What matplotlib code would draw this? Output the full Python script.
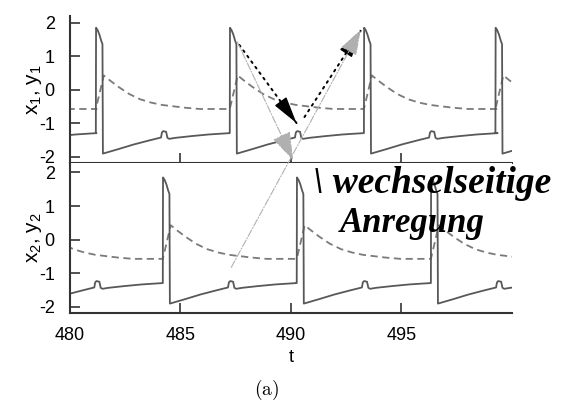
import numpy as np
import matplotlib.pyplot as plt
from matplotlib.patches import ConnectionPatch

plt.rcParams['font.family'] = ['Liberation Sans', 'DejaVu Sans']
plt.rcParams['mathtext.fontset'] = 'custom'
plt.rcParams['mathtext.rm'] = 'Liberation Sans'
plt.rcParams['mathtext.it'] = 'Liberation Sans:italic'
plt.rcParams['axes.unicode_minus'] = False

# spike times (first one of each lies before t=480)
SPIKES_1 = [475.15, 481.17, 487.23, 493.30, 499.25]
SPIKES_2 = [478.15, 484.20, 490.26, 496.33]

# one cycle of the solid curve x(t), time offset after a spike
X_OFF = [0.00, 0.01, 0.08, 0.16, 0.24, 0.30, 0.32, 1.0, 1.7, 2.4, 2.95,
         2.99, 3.05, 3.18, 3.24, 3.32, 3.6, 4.3, 5.1, 5.8, 6.05]
X_VAL = [-1.29, 1.85, 1.78, 1.65, 1.47, 1.36, -1.90, -1.77, -1.63, -1.51, -1.42,
         -1.27, -1.23, -1.25, -1.43, -1.46, -1.43, -1.38, -1.33, -1.30, -1.29]

# one cycle of the dashed curve y(t)
Y_OFF = [0.0, 0.36, 0.6, 1.0, 1.5, 2.0, 2.5, 3.0, 3.5, 4.0, 4.7, 6.05]
Y_VAL = [-0.57, 0.43, 0.30, 0.10, -0.12, -0.28, -0.38, -0.45, -0.49, -0.53, -0.57, -0.57]

T_MIN, T_MAX = 480, 500
X_TICKS = [480, 485, 490, 495]
Y_TICKS = [-2, -1, 0, 1, 2]

SOLID_C = '#585858'
DASH_C = '#7a7a7a'


def cycles(spikes, off, val):
    t = np.concatenate([s + np.asarray(off) for s in spikes])
    v = np.tile(val, len(spikes))
    return t, v


fig = plt.figure(figsize=(5.63, 4.13), dpi=100)
ax1 = fig.add_axes([0.1243, 0.6053, 0.7851, 0.3559])
ax2 = fig.add_axes([0.1243, 0.2421, 0.7851, 0.3632])

for ax, spikes, lab in [(ax1, SPIKES_1, 'x$_1$, y$_1$'), (ax2, SPIKES_2, 'x$_2$, y$_2$')]:
    t, x = cycles(spikes, X_OFF, X_VAL)
    ty, y = cycles(spikes, Y_OFF, Y_VAL)
    ax.plot(ty, y, color=DASH_C, lw=1.3, ls=(0, (4, 2.5)))
    ax.plot(t, x, color=SOLID_C, lw=1.3)
    ax.set_xlim(T_MIN, T_MAX)
    ax.set_yticks(Y_TICKS)
    ax.set_xticks(X_TICKS)
    ax.tick_params(direction='in', length=7, width=1.2, labelsize=13, color='#333333')
    ax.tick_params(axis='y', pad=11)
    ax.tick_params(axis='x', pad=10)
    for s in ['top', 'right']:
        ax.spines[s].set_visible(False)
    for s in ['left', 'bottom']:
        ax.spines[s].set_linewidth(1.5)
        ax.spines[s].set_color('#333333')
    ax.set_ylabel(lab, fontsize=15)
    ax.yaxis.set_label_coords(-0.058, 0.5)

ax1.set_ylim(-2.18, 2.2)
ax2.set_ylim(-2.18, 2.28)
ax1.set_xticklabels([])
ax2.set_xlabel('t', fontsize=13, va='top')
ax2.xaxis.set_label_coords(0.5, -0.24)

# dotted black arrows in the upper panel: dotted shaft + solid head
for p0, p1 in [((487.66, 1.34), (490.25, -0.99)), ((490.61, -0.81), (493.15, 1.76))]:
    ax1.annotate('', xy=p1, xytext=p0,
                 arrowprops=dict(arrowstyle='-', color='black', lw=1.4,
                                 ls=(0, (1, 2.5)), shrinkA=0, shrinkB=0))
    mid = (p1[0] - 0.25 * (p1[0] - p0[0]), p1[1] - 0.25 * (p1[1] - p0[1]))
    ax1.annotate('', xy=p1, xytext=mid,
                 arrowprops=dict(arrowstyle='-|>,head_length=1.7,head_width=0.45',
                                 color='black', lw=1.0, shrinkA=0, shrinkB=0))

# light grey dash-dot arrows connecting the two oscillators
g1 = ConnectionPatch((487.57, 1.43), (490.1, -2.1), 'data', 'data', axesA=ax1, axesB=ax1,
                     arrowstyle='-|>,head_length=1.8,head_width=0.6', color='#b0b0b0',
                     lw=0.8, ls='-.', shrinkA=0, shrinkB=0)
g2 = ConnectionPatch((487.30, -0.82), (493.15, 1.79), 'data', 'data', axesA=ax2, axesB=ax1,
                     arrowstyle='-|>,head_length=1.6,head_width=0.55', color='#b0b0b0',
                     lw=0.8, ls='-.', shrinkA=0, shrinkB=0)
fig.add_artist(g1)
fig.add_artist(g2)

# handwritten note
note = dict(color='black', family='Liberation Serif', style='italic',
            weight='bold', va='baseline')
fig.text(313 / 563, 1 - 193 / 413, '\\ wechselseitige', fontsize=27, **note)
fig.text(340 / 563, 1 - 232 / 413, 'Anregung', fontsize=25, **note)

fig.text(267 / 563, 1 - 390 / 413, r'$\mathrm{(a)}$', math_fontfamily='cm',
         fontsize=14, ha='center', va='center')

fig.savefig('out.png', dpi=100)
